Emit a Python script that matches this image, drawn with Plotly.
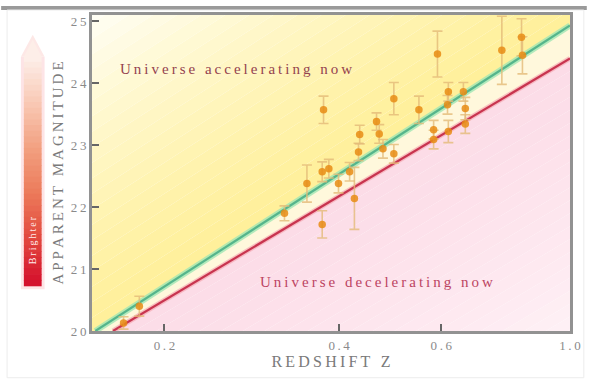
import numpy as np
import plotly.graph_objects as go

# ---- data ----
sn_z = [0.170, 0.181, 0.322, 0.376, 0.497, 0.549, 0.469, 0.464, 0.434, 0.432,
        0.384, 0.374, 0.352, 0.399, 0.417, 0.425, 0.374, 0.497, 0.476, 0.591,
        0.763, 0.825, 0.828, 0.617, 0.655, 0.660, 0.615, 0.582, 0.582, 0.617, 0.660]
sn_mag = [20.13, 20.40, 21.90, 23.57, 23.75, 23.57, 23.18, 23.38, 23.17, 22.89,
          22.62, 22.57, 22.38, 22.38, 22.57, 22.14, 21.72, 22.86, 22.94, 24.47,
          24.53, 24.74, 24.45, 23.86, 23.86, 23.59, 23.65, 23.25, 23.09, 23.22, 23.34]
sn_err = [0.10, 0.16, 0.12, 0.22, 0.26, 0.22, 0.15, 0.14, 0.15, 0.14,
          0.15, 0.16, 0.30, 0.15, 0.15, 0.50, 0.22, 0.15, 0.15, 0.37,
          0.55, 0.30, 0.30, 0.15, 0.15, 0.18, 0.15, 0.15, 0.15, 0.18, 0.15]

accel_z = [0.152, 1.0]      # green line (accelerating model)
accel_mag = [20.0, 24.93]
decel_z = [0.163, 1.0]      # red line (decelerating model)
decel_mag = [20.0, 24.40]

x_ticks = [0.2, 0.4, 0.6, 1.0]
x_tick_labels = ["0.2", "0.4", "0.6", "1.0"]
y_ticks = [20, 21, 22, 23, 24, 25]
y_tick_labels = ["20", "21", "22", "23", "24", "25"]

# ---- layout geometry ----
W, H = 593, 383
ML, MR, MT, MB = 92, 17, 13, 52
PW, PH = W - ML - MR, H - MT - MB
XR = [np.log10(0.15), 0.0]
YR = [20.0, 25.1]


def px2x(px):
    return (px - ML) / PW


def py2y(py):
    return (H - MB - py) / PH


def spaced(s):
    return "\u2009".join(s)


def line_at(zs, mags, z):
    lz0, lz1 = np.log10(zs[0]), np.log10(zs[1])
    return mags[0] + (mags[1] - mags[0]) * (np.log10(z) - lz0) / (lz1 - lz0)


def mix(c1, c2, t):
    a = [int(c1[i:i + 2], 16) for i in (1, 3, 5)]
    b = [int(c2[i:i + 2], 16) for i in (1, 3, 5)]
    return "rgb(%d,%d,%d)" % tuple(round(a[k] + (b[k] - a[k]) * t) for k in range(3))


fig = go.Figure()
zl, zr = 0.12, 1.1
edge = np.array([zl, zr])

# yellow region above the green line (bands fading to white)
nb = 24
lo = line_at(accel_z, accel_mag, edge)
for k in range(nb):
    d0, d1 = 6.0 * k / nb, 6.0 * (k + 1) / nb
    xs = [zl, zr, zr, zl, zl]
    ys = [lo[0] + d0, lo[1] + d0, lo[1] + d1, lo[0] + d1, lo[0] + d0]
    t = min(1.0, (k + 0.5) / nb * 1.15) ** 1.3
    fig.add_trace(go.Scatter(x=xs, y=ys, fill="toself", mode="lines",
                             line=dict(width=0), fillcolor=mix("#fff09a", "#fffef6", t),
                             hoverinfo="skip", showlegend=False))

# pale strip between the lines
g = line_at(accel_z, accel_mag, edge)
r = line_at(decel_z, decel_mag, edge)
fig.add_trace(go.Scatter(x=[zl, zr, zr, zl, zl], y=[g[0], g[1], r[1], r[0], g[0]],
                         fill="toself", mode="lines", line=dict(width=0),
                         fillcolor="#fff8dc", hoverinfo="skip", showlegend=False))

# pink region below the red line
for k in range(nb):
    d0, d1 = 5.0 * k / nb, 5.0 * (k + 1) / nb
    xs = [zl, zr, zr, zl, zl]
    ys = [r[0] - d0, r[1] - d0, r[1] - d1, r[0] - d1, r[0] - d0]
    t = ((k + 0.5) / nb) ** 1.2
    fig.add_trace(go.Scatter(x=xs, y=ys, fill="toself", mode="lines",
                             line=dict(width=0), fillcolor=mix("#fcdce7", "#fff4f8", t),
                             hoverinfo="skip", showlegend=False))

# model lines with soft halos
fig.add_trace(go.Scatter(x=accel_z, y=accel_mag, mode="lines",
                         line=dict(color="rgba(160,230,180,0.8)", width=6),
                         hoverinfo="skip", showlegend=False))
fig.add_trace(go.Scatter(x=accel_z, y=accel_mag, mode="lines",
                         line=dict(color="#55b58c", width=2.2), showlegend=False))
fig.add_trace(go.Scatter(x=decel_z, y=decel_mag, mode="lines",
                         line=dict(color="rgba(245,170,180,0.7)", width=5),
                         hoverinfo="skip", showlegend=False))
fig.add_trace(go.Scatter(x=decel_z, y=decel_mag, mode="lines",
                         line=dict(color="#c8344f", width=2.2), showlegend=False))

# supernova points
fig.add_trace(go.Scatter(
    x=sn_z, y=sn_mag, mode="markers",
    marker=dict(color="rgba(232,140,20,0.85)", size=7.5, symbol="circle",
                line=dict(width=0)),
    error_y=dict(type="data", array=sn_err, visible=True,
                 color="rgba(228,186,120,0.8)", thickness=1.6, width=5),
    showlegend=False))

# arrow next to the y-axis title
shapes = []
ax0, ax1 = px2x(23), px2x(41)
ytop, ybot = 55, 286
shapes.append(dict(type="rect", xref="paper", yref="paper",
                   x0=px2x(20), x1=px2x(44), y0=py2y(ybot + 3), y1=py2y(ytop),
                   fillcolor="#fde4e6", line=dict(width=0), layer="above"))
shapes.append(dict(type="path", xref="paper", yref="paper",
                   path="M %f %f L %f %f L %f %f Z" % (px2x(20), py2y(ytop), px2x(32), py2y(33),
                                                       px2x(44), py2y(ytop)),
                   fillcolor="#fde8e6", line=dict(width=0), layer="above"))
stops = ["#fdeee8", "#f9c8b4", "#f2a080", "#ec7a5a", "#e2483e", "#d4102c"]
n = 40
for i in range(n):
    t = i / (n - 1)
    pos = t * (len(stops) - 1)
    j = min(int(pos), len(stops) - 2)
    col = mix(stops[j], stops[j + 1], pos - j)
    y0 = ytop + (ybot - ytop) * i / n
    y1 = ytop + (ybot - ytop) * (i + 1) / n
    shapes.append(dict(type="rect", xref="paper", yref="paper",
                       x0=ax0, x1=ax1, y0=py2y(y1), y1=py2y(y0) + 0.002,
                       fillcolor=col, line=dict(width=0), layer="above"))
shapes.append(dict(type="path", xref="paper", yref="paper",
                   path="M %f %f L %f %f L %f %f Z" % (ax0, py2y(ytop), px2x(32), py2y(38),
                                                       ax1, py2y(ytop)),
                   fillcolor="#fdeee8", line=dict(width=0), layer="above"))
# figure frame
shapes.append(dict(type="rect", xref="paper", yref="paper",
                   x0=px2x(0), x1=px2x(W), y0=py2y(8), y1=py2y(4),
                   fillcolor="#9a9a9a", line=dict(width=0), layer="above"))
shapes.append(dict(type="rect", xref="paper", yref="paper",
                   x0=px2x(6), x1=px2x(W - 3), y0=py2y(378), y1=py2y(8),
                   fillcolor="rgba(0,0,0,0)", line=dict(color="#ececec", width=1),
                   layer="above"))

serif = "Liberation Serif, Times New Roman, serif"
annotations = [
    dict(text=spaced("Universe accelerating now"), x=px2x(238), y=py2y(67), xref="paper",
         yref="paper", xanchor="center", yanchor="middle", showarrow=False,
         font=dict(family=serif, size=15, color="#94424f")),
    dict(text=spaced("Universe decelerating now"), x=px2x(380), y=py2y(282), xref="paper",
         yref="paper", xanchor="center", yanchor="middle", showarrow=False,
         font=dict(family=serif, size=15, color="#bc4462")),
    dict(text=spaced("Brighter"), x=px2x(32), y=py2y(240), xref="paper", yref="paper",
         xanchor="center", yanchor="middle", showarrow=False, textangle=-90,
         font=dict(family=serif, size=10, color="#ffecec")),
]

fig.update_layout(
    width=W, height=H,
    margin=dict(l=ML, r=MR, t=MT, b=MB),
    paper_bgcolor="white", plot_bgcolor="white",
    shapes=shapes, annotations=annotations,
    font=dict(family=serif, color="#8a8a8a"),
    xaxis=dict(type="log", range=XR, tickvals=x_ticks,
               ticktext=[spaced(t) for t in x_tick_labels],
               ticks="inside", ticklen=7, tickwidth=2, tickcolor="#666666",
               showgrid=False, zeroline=False, showline=True, linecolor="#929292",
               linewidth=3, mirror=True, tickfont=dict(size=13, color="#8a8a8a"),
               title=dict(text=spaced("REDSHIFT Z"), font=dict(size=16, color="#7a7a7a"),
                          standoff=4)),
    yaxis=dict(range=YR, tickvals=y_ticks,
               ticktext=[spaced(t) for t in y_tick_labels],
               ticks="inside", ticklen=7, tickwidth=2, tickcolor="#666666",
               showgrid=False, zeroline=False, showline=True, linecolor="#929292",
               linewidth=3, mirror=True, tickfont=dict(size=13, color="#8a8a8a"),
               title=dict(text=spaced("APPARENT MAGNITUDE"),
                          font=dict(size=15, color="#7a7a7a"), standoff=4)),
)

fig.write_html("out.html", config={"displayModeBar": False},
               post_script="document.body.style.margin='0px';"
                           "document.body.style.overflow='hidden';")
